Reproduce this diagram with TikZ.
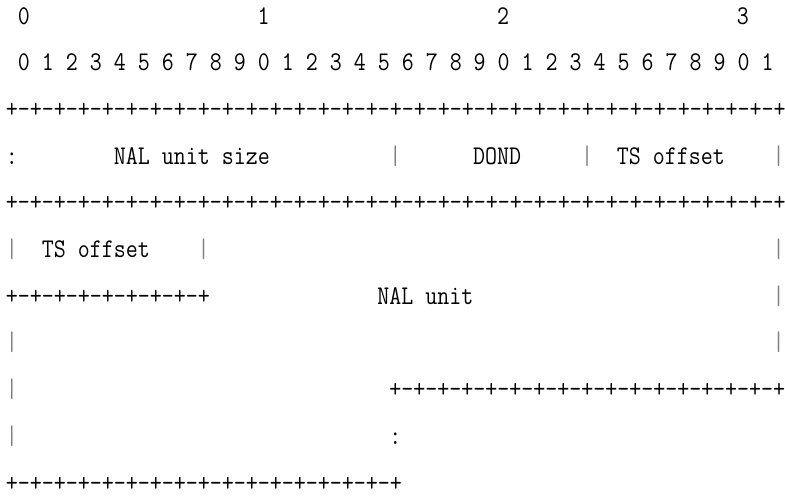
\documentclass[tikz,border=0pt]{standalone}
\usepackage{fontspec}
\usepackage{graphicx}
\tikzset{
  cell/.style={anchor=base west, inner sep=0pt, outer sep=0pt,
    font=\fontsize{27}{27}\selectfont\ttfamily, text=black},
  barcell/.style={cell, text=black!50},
}
% name, row, column, text  (column pitch 11.98pt, row pitch 46.7pt)
\newcommand{\asc}[5][cell]{%
  \node[#1] (#2) at ({6pt+11.98pt*#4}, {-24pt-46.7pt*(#3-1)}) {\scalebox{0.8627}[1]{#5}};}
\begin{document}
\begin{tikzpicture}
\useasboundingbox (0pt,0pt) rectangle (785pt,-499pt);
% row 1
\asc{hA}{1}{1}{0}
\asc{hB}{1}{21}{1}
\asc{hC}{1}{41}{2}
\asc{hD}{1}{61}{3}
% row 2
\asc{bits}{2}{1}{0 1 2 3 4 5 6 7 8 9 0 1 2 3 4 5 6 7 8 9 0 1 2 3 4 5 6 7 8 9 0 1}
% row 3
\asc{lineA}{3}{0}{+-+-+-+-+-+-+-+-+-+-+-+-+-+-+-+-+-+-+-+-+-+-+-+-+-+-+-+-+-+-+-+-+}
% row 4
\asc{colonA}{4}{0}{:}
\asc{nalsize}{4}{9}{NAL unit size}
\asc[barcell]{barA}{4}{32}{|}
\asc{dond}{4}{39}{DOND}
\asc[barcell]{barB}{4}{48}{|}
\asc{tsA}{4}{51}{TS offset}
\asc[barcell]{barC}{4}{64}{|}
% row 5
\asc{lineB}{5}{0}{+-+-+-+-+-+-+-+-+-+-+-+-+-+-+-+-+-+-+-+-+-+-+-+-+-+-+-+-+-+-+-+-+}
% row 6
\asc[barcell]{barD}{6}{0}{|}
\asc{tsB}{6}{3}{TS offset}
\asc[barcell]{barE}{6}{16}{|}
\asc[barcell]{barF}{6}{64}{|}
% row 7
\asc{lineC}{7}{0}{+-+-+-+-+-+-+-+-+}
\asc{nalunit}{7}{31}{NAL unit}
\asc[barcell]{barG}{7}{64}{|}
% row 8
\asc[barcell]{barH}{8}{0}{|}
\asc[barcell]{barI}{8}{64}{|}
% row 9
\asc[barcell]{barJ}{9}{0}{|}
\asc{lineD}{9}{32}{+-+-+-+-+-+-+-+-+-+-+-+-+-+-+-+-+}
% row 10
\asc[barcell]{barK}{10}{0}{|}
\asc{colonB}{10}{32}{:}
% row 11
\asc{lineE}{11}{0}{+-+-+-+-+-+-+-+-+-+-+-+-+-+-+-+-+}
\end{tikzpicture}
\end{document}
